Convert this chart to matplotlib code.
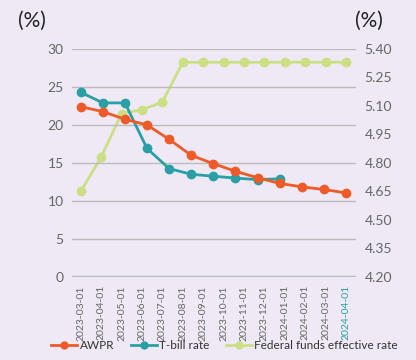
import matplotlib
matplotlib.use("Agg")
import matplotlib.pyplot as plt
from matplotlib.lines import Line2D

plt.rcParams['font.family'] = ['Lato', 'DejaVu Sans']

# monthly dates on the x axis
dates = ["2023-03-01", "2023-04-01", "2023-05-01", "2023-06-01", "2023-07-01",
         "2023-08-01", "2023-09-01", "2023-10-01", "2023-11-01", "2023-12-01",
         "2024-01-01", "2024-02-01", "2024-03-01", "2024-04-01"]

# left axis series (13 slots spread over the same width)
awpr = [22.4, 21.75, 20.75, 20.0, 18.1, 16.0, 14.9, 13.9, 13.05, 12.3, 11.85, 11.5, 11.05]
tbill = [24.3, 22.9, 22.9, 16.9, 14.25, 13.5, 13.25, 13.0, 12.8, 12.9]

# right axis series
fed = [4.65, 4.83, 5.06, 5.08, 5.12, 5.33, 5.33, 5.33, 5.33, 5.33, 5.33, 5.33, 5.33, 5.33]

left_ticks = [0, 5, 10, 15, 20, 25, 30]
right_ticks = [4.20, 4.35, 4.50, 4.65, 4.80, 4.95, 5.10, 5.25, 5.40]

bg = "#EEE9F4"
c_awpr = "#EE5A28"
c_tbill = "#2A9FA6"
c_fed = "#CCDF85"
grey = "#666666"

fig = plt.figure(figsize=(4.16, 3.6), dpi=100, facecolor=bg)
ax = fig.add_axes([0.173, 0.231, 0.683, 0.633])
ax.set_facecolor(bg)
ax2 = ax.twinx()

n = len(dates)
step = (n - 1) / (len(awpr) - 1)
x_awpr = [i * step for i in range(len(awpr))]
x_tbill = [i * step for i in range(len(tbill))]
x_fed = list(range(n))

ax.set_ylim(0, 30)
ax2.set_ylim(4.20, 5.40)
ax.set_xlim(-0.43, 13.5)

for t in left_ticks[1:]:
    ax.axhline(t, color="#BBBBBB", lw=1, zorder=0)
ax.axhline(0, color="#BBBBBB", lw=2.5, zorder=0)

ax2.plot(x_fed, fed, color=c_fed, lw=2, marker="o", ms=6, zorder=2)
ax.plot(x_tbill, tbill, color=c_tbill, lw=2, marker="o", ms=6, zorder=3)
ax.plot(x_awpr, awpr, color=c_awpr, lw=2, marker="o", ms=6, zorder=4)
ax.set_zorder(ax2.get_zorder() + 1)
ax.patch.set_visible(False)
ax2.patch.set_visible(True)
ax2.set_facecolor(bg)

ax.set_yticks(left_ticks)
ax.set_yticklabels([str(t) for t in left_ticks])
ax2.set_yticks(right_ticks)
ax2.set_yticklabels(["%.2f" % t for t in right_ticks])
ax.set_xticks(x_fed)
ax.set_xticklabels(dates, rotation=90, fontsize=7.5, color=grey)
ax.get_xticklabels()[-1].set_color(c_tbill)

for a in (ax, ax2):
    for s in a.spines.values():
        s.set_visible(False)
    a.tick_params(axis="y", length=0, labelsize=10, labelcolor=grey, pad=6)
ax.tick_params(axis="x", length=0, pad=6)

fig.text(0.043, 0.925, "(%)", fontsize=15, color="#222222")
fig.text(0.853, 0.925, "(%)", fontsize=15, color="#222222")

handles = [Line2D([], [], color=c_awpr, lw=2, marker="o", ms=5),
           Line2D([], [], color=c_tbill, lw=2, marker="o", ms=5),
           Line2D([], [], color=c_fed, lw=2, marker="o", ms=5)]
fig.legend(handles, ["AWPR", "T-bill rate", "Federal funds effective rate"],
           loc="lower center", bbox_to_anchor=(0.54, -0.005), ncol=3, frameon=False,
           fontsize=8.5, labelcolor="#333333", handlelength=2.2, handletextpad=0.2,
           columnspacing=1.4)

fig.savefig("out.png", dpi=100, facecolor=bg)
